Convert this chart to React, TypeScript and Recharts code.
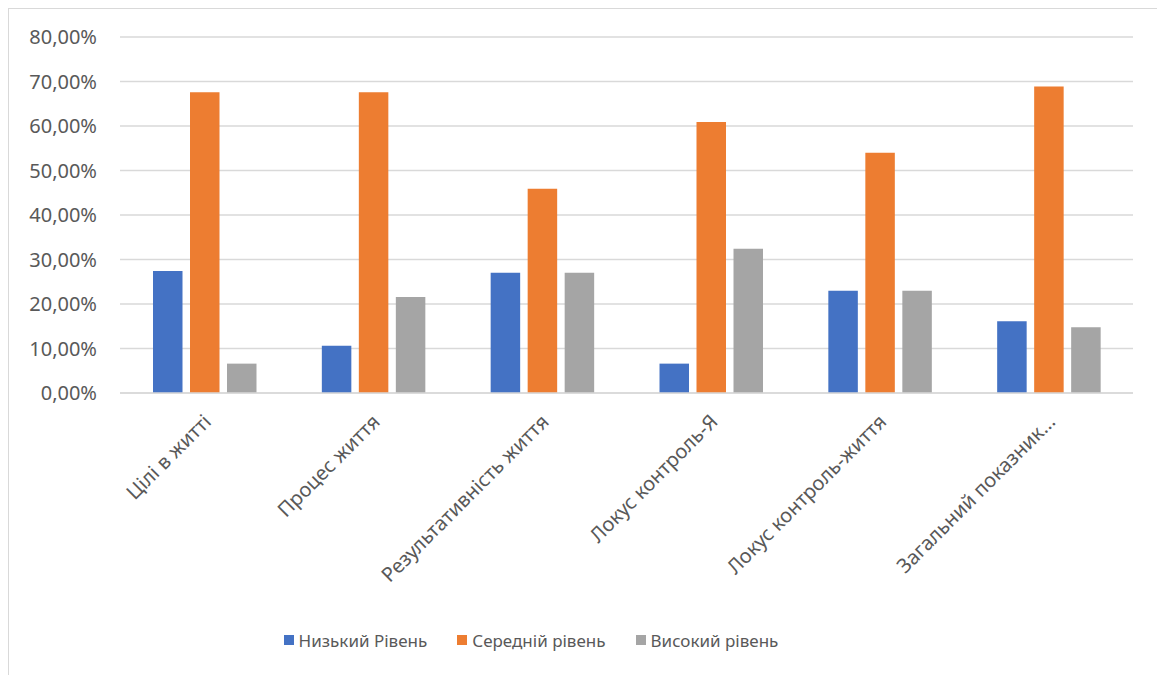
import React from 'react';
import { BarChart, Bar, XAxis, YAxis, CartesianGrid, Legend } from 'recharts';

const categories = [
  'Цілі в житті',
  'Процес життя',
  'Результативність життя',
  'Локус контроль-Я',
  'Локус контроль-життя',
  'Загальний показник...',
];
const lowLevel = [0.274, 0.106, 0.27, 0.066, 0.23, 0.161];
const midLevel = [0.676, 0.676, 0.459, 0.609, 0.54, 0.689];
const highLevel = [0.066, 0.216, 0.27, 0.324, 0.23, 0.148];
const yTicks = [0, 0.1, 0.2, 0.3, 0.4, 0.5, 0.6, 0.7, 0.8];
const seriesKeys = ['low', 'mid', 'high'];

const data = categories.map((name, i) => ({
  name,
  low: lowLevel[i],
  mid: midLevel[i],
  high: highLevel[i],
}));

const FONT = '"Noto Sans", sans-serif';
const TEXT = '#595959';

const pct = (v: number) => `${(v * 100).toFixed(2).replace('.', ',')}%`;

const XTick = (props: any) => {
  const { x, y, payload } = props;
  const ax = x + 8;
  const ay = y + 22;
  return (
    <text
      x={ax}
      y={ay}
      transform={`rotate(-45, ${ax}, ${ay})`}
      textAnchor="end"
      fill={TEXT}
      fontSize={20}
      fontFamily={FONT}
    >
      {payload.value}
    </text>
  );
};

const YTick = (props: any) => {
  const { x, y, payload } = props;
  return (
    <text x={x} y={y} dy="0.35em" textAnchor="end" fill={TEXT} fontSize={20} fontFamily={FONT}>
      {pct(payload.value)}
    </text>
  );
};

// legend drawn from the payload recharts hands over, kept in series order
const LegendContent = (props: any) => {
  const payload = [...(props.payload || [])].sort(
    (a: any, b: any) => seriesKeys.indexOf(a.dataKey) - seriesKeys.indexOf(b.dataKey)
  );
  return (
    <div
      style={{
        display: 'flex',
        justifyContent: 'center',
        height: 24,
        alignItems: 'center',
        paddingRight: 80,
        fontFamily: FONT,
        fontSize: 17,
        color: TEXT,
      }}
    >
      {payload.map((p: any, i: number) => (
        <div key={p.value} style={{ display: 'flex', alignItems: 'center', marginLeft: i ? 30 : 0 }}>
          <span style={{ width: 10, height: 10, background: p.color, marginRight: 5, display: 'inline-block' }} />
          <span>{p.value}</span>
        </div>
      ))}
    </div>
  );
};

export default function App() {
  return (
    <div style={{ width: 1149, height: 667, border: '1px solid #d9d9d9', background: '#fff' }}>
      <BarChart
        width={1149}
        height={667}
        data={data}
        margin={{ top: 28, right: 25, bottom: 24, left: 0 }}
        barCategoryGap={32}
        barGap={7.5}
        barSize={29.5}
      >
        <CartesianGrid vertical={false} stroke="#d9d9d9" strokeWidth={1.5} />
        <XAxis
          dataKey="name"
          tick={<XTick />}
          tickLine={false}
          axisLine={{ stroke: '#d9d9d9', strokeWidth: 1.5 }}
          interval={0}
          height={235}
        />
        <YAxis
          domain={[0, 0.8]}
          ticks={yTicks}
          axisLine={false}
          tickLine={false}
          tickSize={0}
          tickMargin={23}
          width={111}
          tick={<YTick />}
        />
        <Legend content={<LegendContent />} />
        <Bar dataKey="low" name="Низький Рівень" fill="#4472c4" isAnimationActive={false} />
        <Bar dataKey="mid" name="Середній рівень" fill="#ed7d31" isAnimationActive={false} />
        <Bar dataKey="high" name="Високий рівень" fill="#a5a5a5" isAnimationActive={false} />
      </BarChart>
    </div>
  );
}
